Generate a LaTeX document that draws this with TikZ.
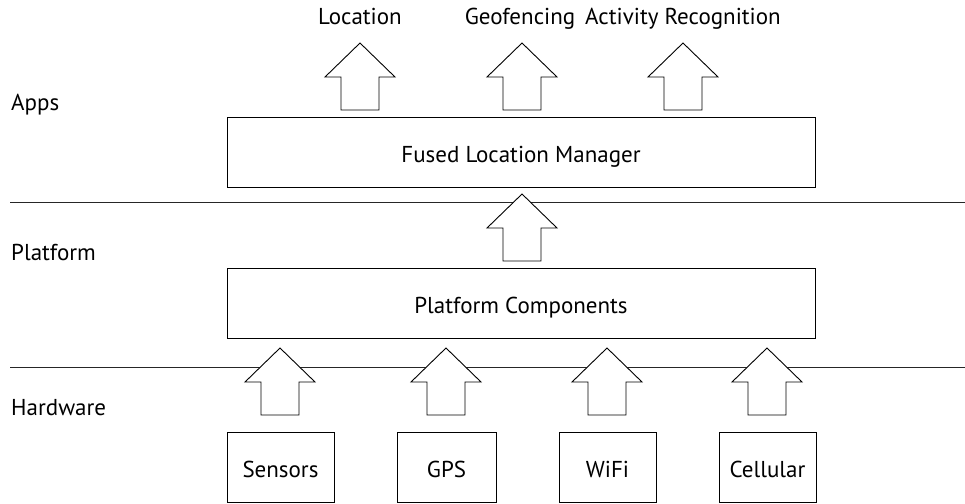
\documentclass[tikz,border=0pt]{standalone}
\usepackage{fontspec}
\setmainfont{PT Sans}
\begin{document}
\begin{tikzpicture}[x=1pt,y=-1pt,
  every node/.style={font=\fontsize{23}{26}\selectfont},
  box/.style={draw,line width=0.9pt,inner sep=0pt,text height=20pt,text depth=0pt,minimum height=70pt},
  lbl/.style={anchor=base west,inner sep=0pt},
  toplbl/.style={anchor=base,inner sep=0pt},
  sep/.style={line width=1pt,draw=black!85},
  uparrow/.pic={\draw[line width=0.9pt,fill=white,line join=miter]
     (0,0) -- (35,34) -- (19,34) -- (19,67) -- (-19,67) -- (-19,34) -- (-35,34) -- cycle;}]
\useasboundingbox (0,0) rectangle (965,503);

% separators
\coordinate (s1a) at (10,202); \coordinate (s1b) at (965,202);
\coordinate (s2a) at (10,367); \coordinate (s2b) at (965,367);
\draw[sep] (s1a) -- (s1b);
\draw[sep] (s2a) -- (s2b);

% layer labels
\node[lbl] (apps) at (11,110) {Apps};
\node[lbl] (plat) at (11,260) {Platform};
\node[lbl] (hw) at (11,415) {Hardware};

% top labels
\node[toplbl] (loc) at (360,25) {Location};
\node[toplbl] (geo) at (520,25) {Geofencing};
\node[toplbl] (act) at (683,25) {Activity Recognition};

% main boxes
\node[box,minimum width=588pt] (flm) at (521,152) {Fused Location Manager};
\node[box,minimum width=588pt] (pc) at (521,303.5) {Platform Components};

% hardware boxes
\node[box,minimum width=107pt] (sens) at (280.5,467) {Sensors};
\node[box,minimum width=99pt] (gps) at (446.5,467) {GPS};
\node[box,minimum width=97pt] (wifi) at (607.5,467) {WiFi};
\node[box,minimum width=97pt] (cell) at (767.5,467) {Cellular};

% block arrows
\pic at (360,43) {uparrow};
\pic at (522,43) {uparrow};
\pic at (683,43) {uparrow};
\pic at (522,194) {uparrow};
\pic at (280,348) {uparrow};
\pic at (446,348) {uparrow};
\pic at (607,348) {uparrow};
\pic at (767,348) {uparrow};
\end{tikzpicture}
\end{document}
